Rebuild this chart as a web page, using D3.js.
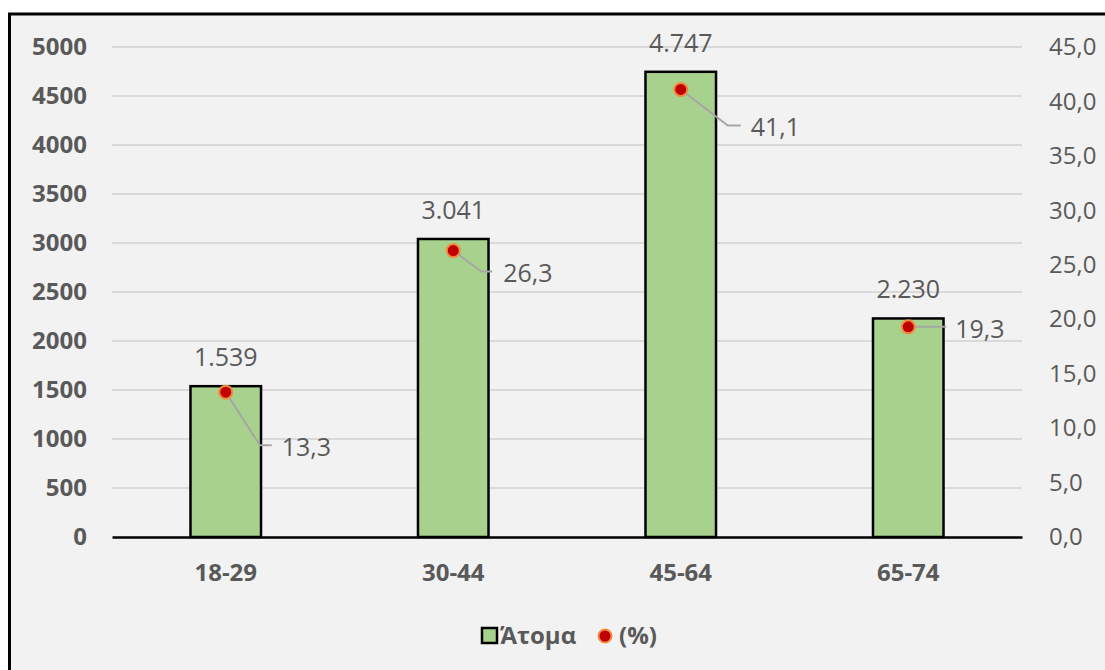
<!DOCTYPE html>
<html>

<head>
    <meta charset="utf-8">
    <title>Άτομα ανά ηλικία</title>
    <script src="https://cdn.jsdelivr.net/npm/d3@7"></script>
    <style>
        body { margin: 0; background: #fff; }
        text { font-family: 'Open Sans', sans-serif; fill: #595959; }
    </style>
</head>

<body>
    <svg width="1105" height="670" id="mainsvg"></svg>
    <script>
        // data
        const ageGroups = ['18-29', '30-44', '45-64', '65-74'];
        const persons = [1539, 3041, 4747, 2230];
        const percents = [13.3, 26.3, 41.1, 19.3];
        const leftTicks = d3.range(0, 5001, 500);
        const rightTicks = d3.range(0, 45.1, 5);

        // leader line layout for the % labels (pixels from the point)
        const leaders = [
            { ex: 34, ey: 53, end: 46, tx: 56 },
            { ex: 28, ey: 21, end: 39, tx: 50 },
            { ex: 47, ey: 36, end: 60, tx: 70 },
            { ex: 26, ey: 0, end: 38, tx: 47 }
        ];

        const svg = d3.select('svg');
        const plotLeft = 112, plotRight = 1022, plotTop = 47, plotBottom = 537;
        const font = "'Open Sans', sans-serif";

        // frame
        svg.append('rect').attr('x', 9.5).attr('y', 14).attr('width', 1120).attr('height', 700)
            .attr('fill', '#f2f2f2').attr('stroke', '#000').attr('stroke-width', 3);

        const x = d3.scaleBand().domain(ageGroups).range([plotLeft, plotRight]).paddingInner(0.69).paddingOuter(0.345);
        const yL = d3.scaleLinear().domain([0, 5000]).range([plotBottom, plotTop]);
        const yR = d3.scaleLinear().domain([0, 45]).range([plotBottom, plotTop]);

        // gridlines
        svg.selectAll('.grid').data(leftTicks.slice(1)).join('line').attr('class', 'grid')
            .attr('x1', plotLeft).attr('x2', plotRight).attr('y1', yL).attr('y2', yL)
            .attr('stroke', '#d9d9d9').attr('stroke-width', 2);

        // left axis
        const gL = svg.append('g').attr('transform', `translate(${plotLeft},0)`)
            .call(d3.axisLeft(yL).tickValues(leftTicks).tickSize(0).tickPadding(25).tickFormat(d3.format('d')));
        gL.select('.domain').remove();
        gL.selectAll('text').attr('font-size', 24).attr('font-weight', 'bold').style('font-family', font).attr('fill', '#595959');

        // right axis
        const fmtR = d => d.toFixed(1).replace('.', ',');
        const gR = svg.append('g').attr('transform', `translate(${plotRight},0)`)
            .call(d3.axisRight(yR).tickValues(rightTicks).tickSize(0).tickPadding(27).tickFormat(fmtR));
        gR.select('.domain').remove();
        gR.selectAll('text').attr('font-size', 24).style('font-family', font).attr('fill', '#595959');

        // bars
        const rows = ageGroups.map((g, i) => ({ g, n: persons[i], p: percents[i], l: leaders[i] }));
        svg.selectAll('.bar').data(rows).join('rect').attr('class', 'bar')
            .attr('x', d => x(d.g)).attr('width', x.bandwidth())
            .attr('y', d => yL(d.n)).attr('height', d => plotBottom - yL(d.n))
            .attr('fill', '#a9d18e').attr('stroke', '#000').attr('stroke-width', 2.5);

        // x axis
        const gX = svg.append('g').attr('transform', `translate(0,${plotBottom})`)
            .call(d3.axisBottom(x).tickSize(0).tickPadding(27));
        gX.select('.domain').attr('stroke', '#000').attr('stroke-width', 2.5);
        gX.selectAll('text').attr('font-size', 24).attr('font-weight', 'bold').style('font-family', font).attr('fill', '#595959');

        // bar labels
        const fmtN = d => d3.format(',')(d).replace(',', '.');
        svg.selectAll('.barLabel').data(rows).join('text').attr('class', 'barLabel')
            .attr('x', d => x(d.g) + x.bandwidth() / 2).attr('y', d => yL(d.n) - 29)
            .attr('dy', '0.35em').attr('text-anchor', 'middle').attr('font-size', 25)
            .text(d => fmtN(d.n));

        // leader lines
        const cx = d => x(d.g) + x.bandwidth() / 2;
        svg.selectAll('.leader').data(rows).join('path').attr('class', 'leader')
            .attr('d', d => `M${cx(d)},${yR(d.p)} L${cx(d) + d.l.ex},${yR(d.p) + d.l.ey} L${cx(d) + d.l.end},${yR(d.p) + d.l.ey}`)
            .attr('fill', 'none').attr('stroke', '#a6a6a6').attr('stroke-width', 2);

        // points
        svg.selectAll('.dot').data(rows).join('circle').attr('class', 'dot')
            .attr('cx', cx).attr('cy', d => yR(d.p)).attr('r', 6.5)
            .attr('fill', '#c00000').attr('stroke', '#f08a3c').attr('stroke-width', 2);

        // % labels
        svg.selectAll('.pLabel').data(rows).join('text').attr('class', 'pLabel')
            .attr('x', d => cx(d) + d.l.tx).attr('y', d => yR(d.p) + d.l.ey + 2)
            .attr('dy', '0.35em').attr('font-size', 25)
            .text(d => d.p.toFixed(1).replace('.', ','));

        // legend
        const lg = svg.append('g');
        lg.append('rect').attr('x', 482).attr('y', 628).attr('width', 15).attr('height', 15)
            .attr('fill', '#a9d18e').attr('stroke', '#000').attr('stroke-width', 2.5);
        lg.append('text').attr('x', 500).attr('y', 636).attr('dy', '0.35em')
            .attr('font-size', 24).attr('font-weight', 'bold').text('Άτομα');
        lg.append('circle').attr('cx', 605).attr('cy', 636).attr('r', 6.5)
            .attr('fill', '#c00000').attr('stroke', '#f08a3c').attr('stroke-width', 2);
        lg.append('text').attr('x', 619).attr('y', 636).attr('dy', '0.35em')
            .attr('font-size', 24).attr('font-weight', 'bold').text('(%)');
    </script>
</body>

</html>
